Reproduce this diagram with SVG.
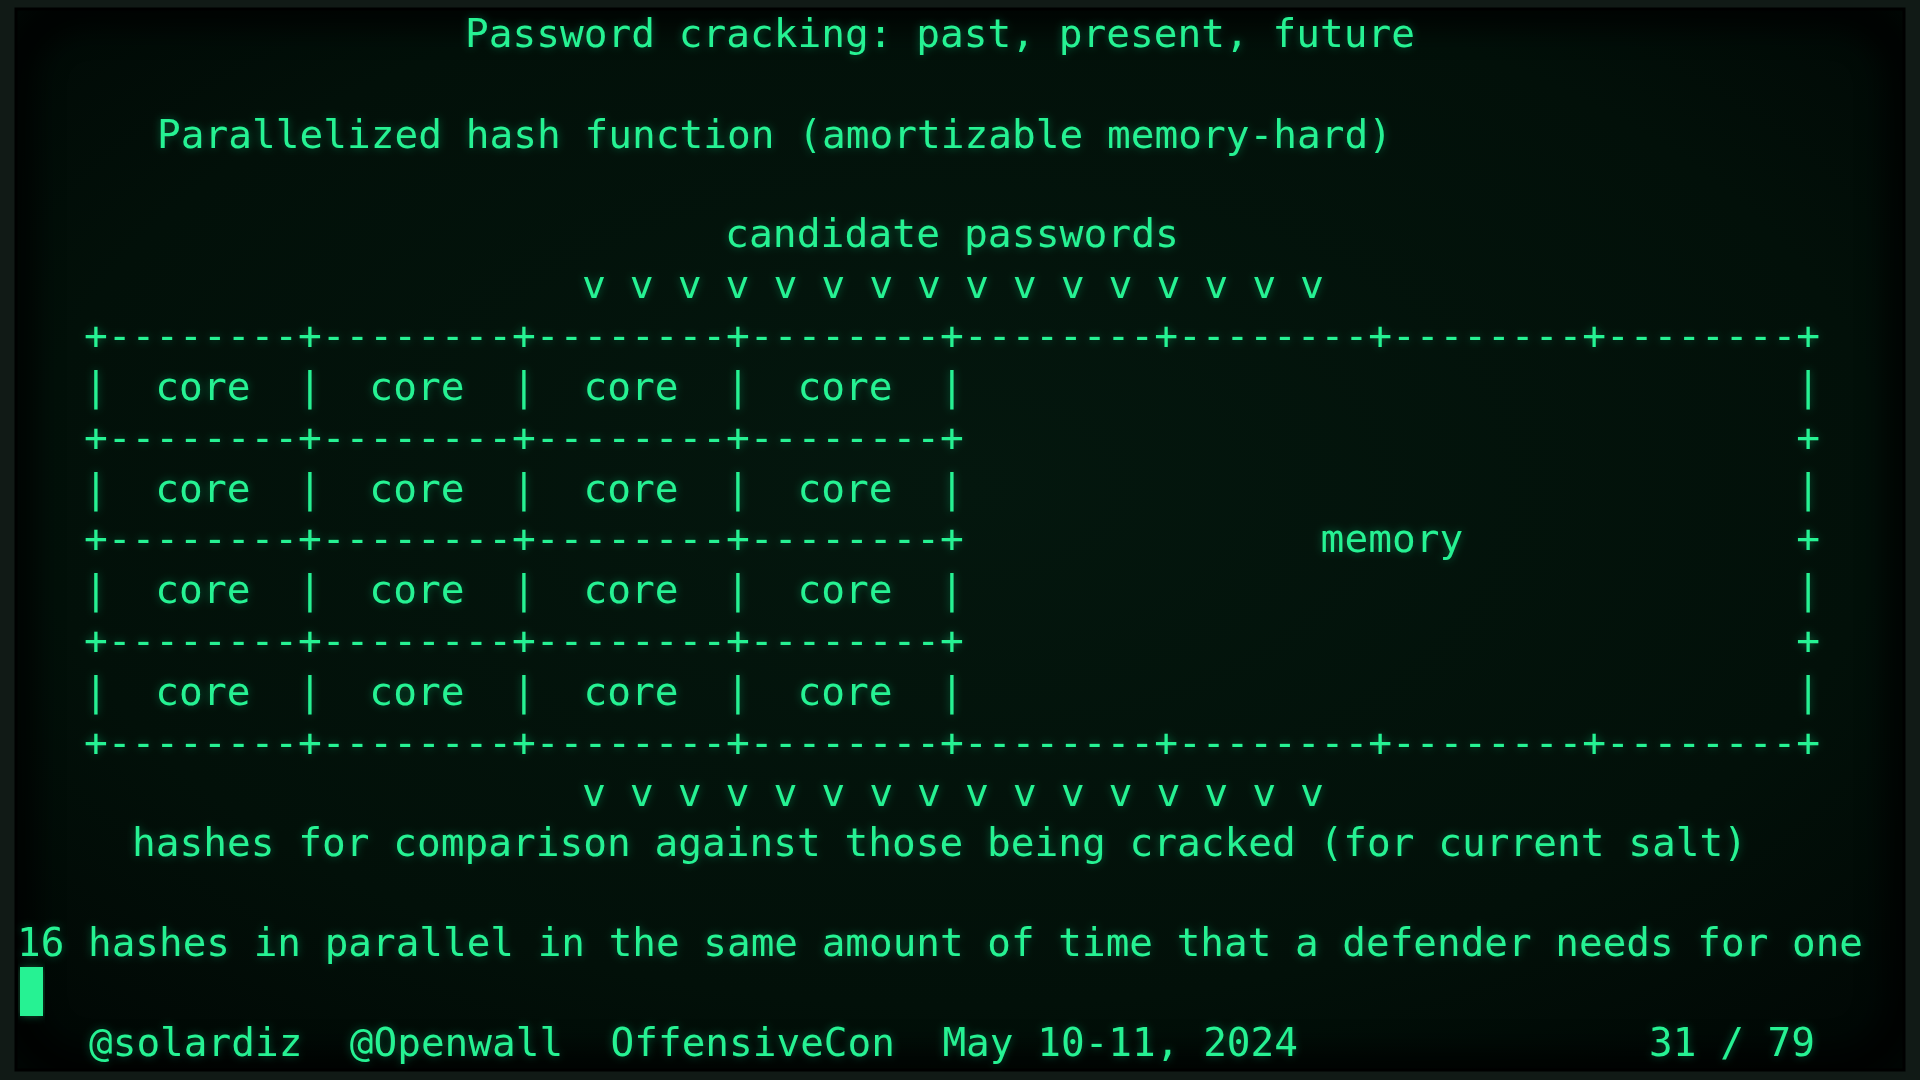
<svg xmlns="http://www.w3.org/2000/svg" width="1920" height="1080" viewBox="0 0 1920 1080">
<defs>
<style>
.t{font-family:"DejaVu Sans Mono","Liberation Mono",monospace;font-size:39.5px;fill:#25f293;white-space:pre;filter:url(#glow)}
</style>
<radialGradient id="scr" cx="50%" cy="45%" r="70%">
<stop offset="0" stop-color="#04170e"/>
<stop offset="0.7" stop-color="#021009"/>
<stop offset="1" stop-color="#010805"/>
</radialGradient>
<filter id="glow" x="-5%" y="-50%" width="110%" height="200%">
<feGaussianBlur in="SourceGraphic" stdDeviation="4" result="b"/>
<feComponentTransfer in="b" result="b2"><feFuncA type="linear" slope="0.35"/></feComponentTransfer>
<feMerge><feMergeNode in="b2"/><feMergeNode in="SourceGraphic"/></feMerge>
</filter>
<filter id="inner" x="-5%" y="-5%" width="110%" height="110%">
<feGaussianBlur stdDeviation="14"/>
</filter>
<clipPath id="clipScr"><rect x="16" y="9" width="1888" height="1061"/></clipPath>
</defs>
<rect width="1920" height="1080" fill="#111a16"/>
<rect x="16" y="9" width="1888" height="1061" fill="url(#scr)"/>
<g clip-path="url(#clipScr)">
<rect x="16" y="9" width="1888" height="1061" rx="70" fill="none" stroke="#000" stroke-width="40" opacity="0.75" filter="url(#inner)"/>
</g>
<rect x="16" y="9" width="1888" height="1061" fill="none" stroke="#000" stroke-width="3"/>

<g id="title"><text class="t" x="465" y="47" textLength="950" lengthAdjust="spacingAndGlyphs">Password cracking: past, present, future</text></g>
<g id="subtitle"><text class="t" x="157" y="148" textLength="1235" lengthAdjust="spacingAndGlyphs">Parallelized hash function (amortizable memory-hard)</text></g>
<g id="input"><text class="t" x="725" y="247" textLength="454" lengthAdjust="spacingAndGlyphs">candidate passwords</text></g>
<g id="connectors">
<text class="t" x="582" y="298" textLength="742" lengthAdjust="spacingAndGlyphs">v v v v v v v v v v v v v v v v</text>
<text class="t" x="582" y="806" textLength="742" lengthAdjust="spacingAndGlyphs">v v v v v v v v v v v v v v v v</text>
</g>
<g id="grid">
<text class="t" x="84" y="349" textLength="1736" lengthAdjust="spacingAndGlyphs">+--------+--------+--------+--------+--------+--------+--------+--------+</text>
<text class="t" x="84" y="400" textLength="1736" lengthAdjust="spacingAndGlyphs">|  core  |  core  |  core  |  core  |                                   |</text>
<text class="t" x="84" y="451" textLength="1736" lengthAdjust="spacingAndGlyphs">+--------+--------+--------+--------+                                   +</text>
<text class="t" x="84" y="502" textLength="1736" lengthAdjust="spacingAndGlyphs">|  core  |  core  |  core  |  core  |                                   |</text>
<text class="t" x="84" y="552" textLength="1736" lengthAdjust="spacingAndGlyphs">+--------+--------+--------+--------+               memory              +</text>
<text class="t" x="84" y="603" textLength="1736" lengthAdjust="spacingAndGlyphs">|  core  |  core  |  core  |  core  |                                   |</text>
<text class="t" x="84" y="654" textLength="1736" lengthAdjust="spacingAndGlyphs">+--------+--------+--------+--------+                                   +</text>
<text class="t" x="84" y="705" textLength="1736" lengthAdjust="spacingAndGlyphs">|  core  |  core  |  core  |  core  |                                   |</text>
<text class="t" x="84" y="756" textLength="1736" lengthAdjust="spacingAndGlyphs">+--------+--------+--------+--------+--------+--------+--------+--------+</text>
</g>
<g id="output"><text class="t" x="132" y="856" textLength="1615" lengthAdjust="spacingAndGlyphs">hashes for comparison against those being cracked (for current salt)</text></g>
<g id="note"><text class="t" x="17" y="956" textLength="1846" lengthAdjust="spacingAndGlyphs">16 hashes in parallel in the same amount of time that a defender needs for one</text></g>
<rect id="cursor" x="20" y="967" width="23" height="49" fill="#25f293" filter="url(#glow)"/>
<g id="footer">
<text class="t" x="89" y="1056" textLength="1209" lengthAdjust="spacingAndGlyphs">@solardiz  @Openwall  OffensiveCon  May 10-11, 2024</text>
<text class="t" x="1649" y="1056" textLength="166" lengthAdjust="spacingAndGlyphs">31 / 79</text>
</g>
</svg>
